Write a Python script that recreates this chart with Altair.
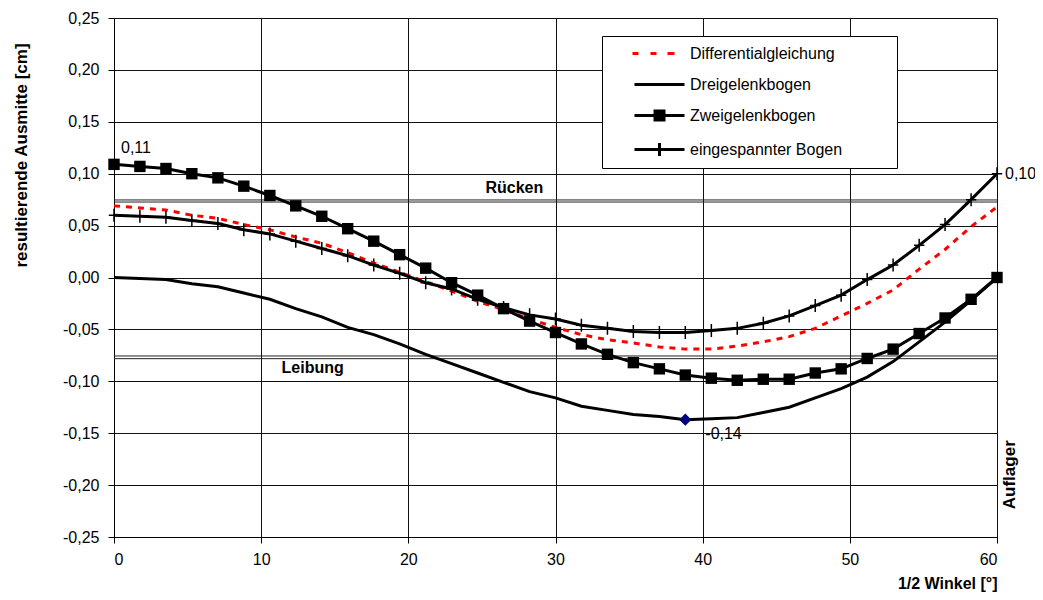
import altair as alt
import pandas as pd

# ---------------- data ----------------
deg = [0.00, 1.76, 3.53, 5.29, 7.06, 8.82, 10.59, 12.35, 14.12, 15.88, 17.65, 19.41,
       21.18, 22.94, 24.71, 26.47, 28.24, 30.00, 31.76, 33.53, 35.29, 37.06, 38.82,
       40.59, 42.35, 44.12, 45.88, 47.65, 49.41, 51.18, 52.94, 54.71, 56.47, 58.24, 60.00]

differential = [0.069, 0.067, 0.065, 0.060, 0.057, 0.051, 0.046, 0.039, 0.033, 0.024, 0.014, 0.005,
                -0.004, -0.013, -0.023, -0.031, -0.040, -0.048, -0.055, -0.060, -0.063, -0.067, -0.069,
                -0.069, -0.066, -0.062, -0.057, -0.049, -0.037, -0.025, -0.012, 0.008, 0.027, 0.049, 0.068]

dreigelenk = [0.000, -0.001, -0.002, -0.006, -0.009, -0.015, -0.021, -0.030, -0.038, -0.048, -0.055, -0.064,
              -0.074, -0.083, -0.092, -0.101, -0.110, -0.116, -0.124, -0.128, -0.132, -0.134, -0.137,
              -0.136, -0.135, -0.130, -0.125, -0.116, -0.107, -0.096, -0.081, -0.062, -0.043, -0.022, 0.000]

zweigelenk = [0.109, 0.107, 0.105, 0.100, 0.096, 0.088, 0.079, 0.069, 0.059, 0.047, 0.035, 0.022,
              0.009, -0.005, -0.017, -0.030, -0.042, -0.053, -0.064, -0.074, -0.082, -0.088, -0.094,
              -0.097, -0.099, -0.098, -0.098, -0.092, -0.088, -0.078, -0.069, -0.054, -0.039, -0.021, 0.000]

eingespannt = [0.060, 0.059, 0.058, 0.055, 0.052, 0.046, 0.042, 0.035, 0.028, 0.021, 0.012, 0.004,
               -0.005, -0.011, -0.021, -0.029, -0.036, -0.040, -0.046, -0.049, -0.052, -0.053, -0.053,
               -0.051, -0.049, -0.044, -0.037, -0.027, -0.017, -0.002, 0.012, 0.031, 0.051, 0.075, 0.100]

series_names = ["Differentialgleichung", "Dreigelenkbogen", "Zweigelenkbogen", "eingespannter Bogen"]

# boundary double lines (Rücken / Leibung)
bound_y = [0.0747, 0.0727, -0.0756, -0.0782]
bound_x0 = [0, 0, 0, 0]
bound_x1 = [60, 60, 60, 60]

# region labels
region_labels = ["Rücken", "Leibung"]
region_x = [27.2, 13.5]
region_y = [0.086, -0.087]

# support label
support_label = ["Auflager"]
support_x = [60]
support_y = [-0.19]

# point annotations
ann_labels = ["0,11", "0,10", "-0,14"]
ann_x = [0.0, 60.0, 38.82]
ann_y = [0.109, 0.100, -0.137]

# minimum marker (Dreigelenkbogen)
min_x = [38.82]
min_y = [-0.137]

x_ticks = [0, 10, 20, 30, 40, 50, 60]
y_ticks = [-0.25, -0.20, -0.15, -0.10, -0.05, 0.0, 0.05, 0.10, 0.15, 0.20, 0.25]

# ---------------- tables ----------------
curves = pd.DataFrame({
    "deg": deg * 4,
    "value": differential + dreigelenk + zweigelenk + eingespannt,
    "series": sum([[n] * len(deg) for n in series_names], []),
})
bounds = pd.DataFrame({"y": bound_y, "x0": bound_x0, "x1": bound_x1})
regions = pd.DataFrame({"x": region_x, "y": region_y, "label": region_labels})
support = pd.DataFrame({"x": support_x, "y": support_y, "label": support_label})
anns = pd.DataFrame({"x": ann_x, "y": ann_y, "label": ann_labels})
mins = pd.DataFrame({"x": min_x, "y": min_y})
legend_df = pd.DataFrame({"series": series_names})

FONT = "Liberation Sans"
GRID = "#111111"

x_scale = alt.Scale(domain=[0, 60], nice=False, zero=False)
y_scale = alt.Scale(domain=[-0.25, 0.25], nice=False, zero=False)

x_axis = alt.Axis(values=x_ticks, title="1/2 Winkel [°]", grid=True, gridColor=GRID, gridWidth=1,
                  domainColor="black", tickColor="black", tickSize=6, labelPadding=8,
                  labelFont=FONT, labelFontSize=16, labelColor="black",
                  titleFont=FONT, titleFontSize=16, titleFontWeight="bold", titleColor="black",
                  titleX=883, titleY=46, titleAlign="right", titleBaseline="middle")
y_axis = alt.Axis(values=y_ticks, title="resultierende Ausmitte [cm]", grid=True, gridColor=GRID,
                  gridWidth=1, domainColor="black", tickColor="black", tickSize=6, labelPadding=9,
                  labelFont=FONT, labelFontSize=16, labelColor="black",
                  labelExpr="(datum.value < -0.0001 ? '-' : '') + replace(format(abs(datum.value), '.2f'), '.', ',')",
                  titleFont=FONT, titleFontSize=17, titleFontWeight="bold", titleColor="black",
                  titleX=-93, titleY=137, titleAngle=270, titleAlign="center", titleBaseline="middle")


def X(field):
    return alt.X(field, type="quantitative", scale=x_scale, axis=x_axis)


def Y(field):
    return alt.Y(field, type="quantitative", scale=y_scale, axis=y_axis)


def curve(name):
    return alt.Chart(curves).transform_filter(alt.datum.series == name)


boundary_lines = alt.Chart(bounds).mark_rule(color="#222222", strokeWidth=1).encode(
    x=X("x0"), x2="x1", y=Y("y"))

line_diff = curve("Differentialgleichung").mark_line(
    color="#ff0000", strokeWidth=3, strokeDash=[6, 6]).encode(x=X("deg"), y=Y("value"))
line_drei = curve("Dreigelenkbogen").mark_line(color="black", strokeWidth=3).encode(
    x=X("deg"), y=Y("value"))
line_zwei = curve("Zweigelenkbogen").mark_line(color="black", strokeWidth=3).encode(
    x=X("deg"), y=Y("value"))
pts_zwei = curve("Zweigelenkbogen").mark_point(
    shape="square", filled=True, color="black", size=130, opacity=1).encode(x=X("deg"), y=Y("value"))
line_ein = curve("eingespannter Bogen").mark_line(color="black", strokeWidth=3).encode(
    x=X("deg"), y=Y("value"))
pts_ein = curve("eingespannter Bogen").mark_point(
    shape="M-0.8,0L0.8,0M0,-1L0,1", filled=False, color="black", strokeWidth=1.5, size=169,
    opacity=1).encode(x=X("deg"), y=Y("value"))

min_pt = alt.Chart(mins).mark_point(shape="diamond", filled=True, color="#000080", size=150,
                                    opacity=1).encode(x=X("x"), y=Y("y"))

text_common = dict(font=FONT, fontSize=16, color="black")
ann_011 = alt.Chart(anns).transform_filter(alt.datum.label == "0,11").mark_text(
    align="left", baseline="middle", dx=7, dy=-16, **text_common).encode(x=X("x"), y=Y("y"), text="label")
ann_010 = alt.Chart(anns).transform_filter(alt.datum.label == "0,10").mark_text(
    align="left", baseline="middle", dx=8, dy=0, **text_common).encode(x=X("x"), y=Y("y"), text="label")
ann_014 = alt.Chart(anns).transform_filter(alt.datum.label == "-0,14").mark_text(
    align="left", baseline="middle", dx=20, dy=14, **text_common).encode(x=X("x"), y=Y("y"), text="label")

region_text = alt.Chart(regions).mark_text(
    align="center", baseline="middle", font=FONT, fontSize=16, fontWeight="bold", color="black").encode(
    x=X("x"), y=Y("y"), text="label")

auflager = alt.Chart(support).mark_text(
    align="center", baseline="middle", angle=270, xOffset=13,
    font=FONT, fontSize=17, fontWeight="bold", color="black").encode(x=X("x"), y=Y("y"), text="label")

legend_paths = [
    "M-2.7,0L-2.1,0M-0.9,0L-0.3,0M0.8,0L1.5,0",
    "M-2.5,0L2.5,0",
    "M-2.5,0L2.5,0M-0.6,-0.45L0.6,-0.45M-0.6,-0.15L0.6,-0.15M-0.6,0.15L0.6,0.15M-0.6,0.45L0.6,0.45",
    "M-2.5,0L2.5,0M0,-0.65L0,0.65",
]
legend_colors = ["#ff0000", "black", "black", "black"]

# blank (non-whitespace) filler so the legend box is as wide as in the original
FILL = "\u2800" * 4
leg = alt.Legend(title=None, orient="none", legendX=488, legendY=18, padding=6,
                 strokeColor="black", fillColor="white", symbolSize=400, symbolStrokeWidth=3,
                 symbolOpacity=1, symbolOffset=40,
                 labelFont=FONT, labelFontSize=16, labelColor="black", labelOffset=19,
                 rowPadding=11, labelLimit=600,
                 labelExpr="datum.label + '" + FILL + "'")

legend_layer = alt.Chart(legend_df).transform_filter("false").mark_point(
    filled=False, strokeWidth=3, size=400, opacity=1).encode(
    x=X("x:Q"), y=Y("y:Q"),
    color=alt.Color("series:N", scale=alt.Scale(domain=series_names, range=legend_colors), legend=leg),
    shape=alt.Shape("series:N", scale=alt.Scale(domain=series_names, range=legend_paths), legend=leg),
)

chart = alt.layer(
    boundary_lines, line_diff, line_drei, line_zwei, pts_zwei, line_ein, pts_ein, min_pt,
    ann_011, ann_010, ann_014, region_text, auflager, legend_layer,
).properties(
    width=883, height=519,
    autosize=alt.AutoSizeParams(type="none"),
    padding={"left": 106, "top": 10, "right": 38, "bottom": 55},
).configure_view(stroke=None).configure(background="white")

chart.save("out.html", embed_options={"renderer": "svg", "actions": False})
